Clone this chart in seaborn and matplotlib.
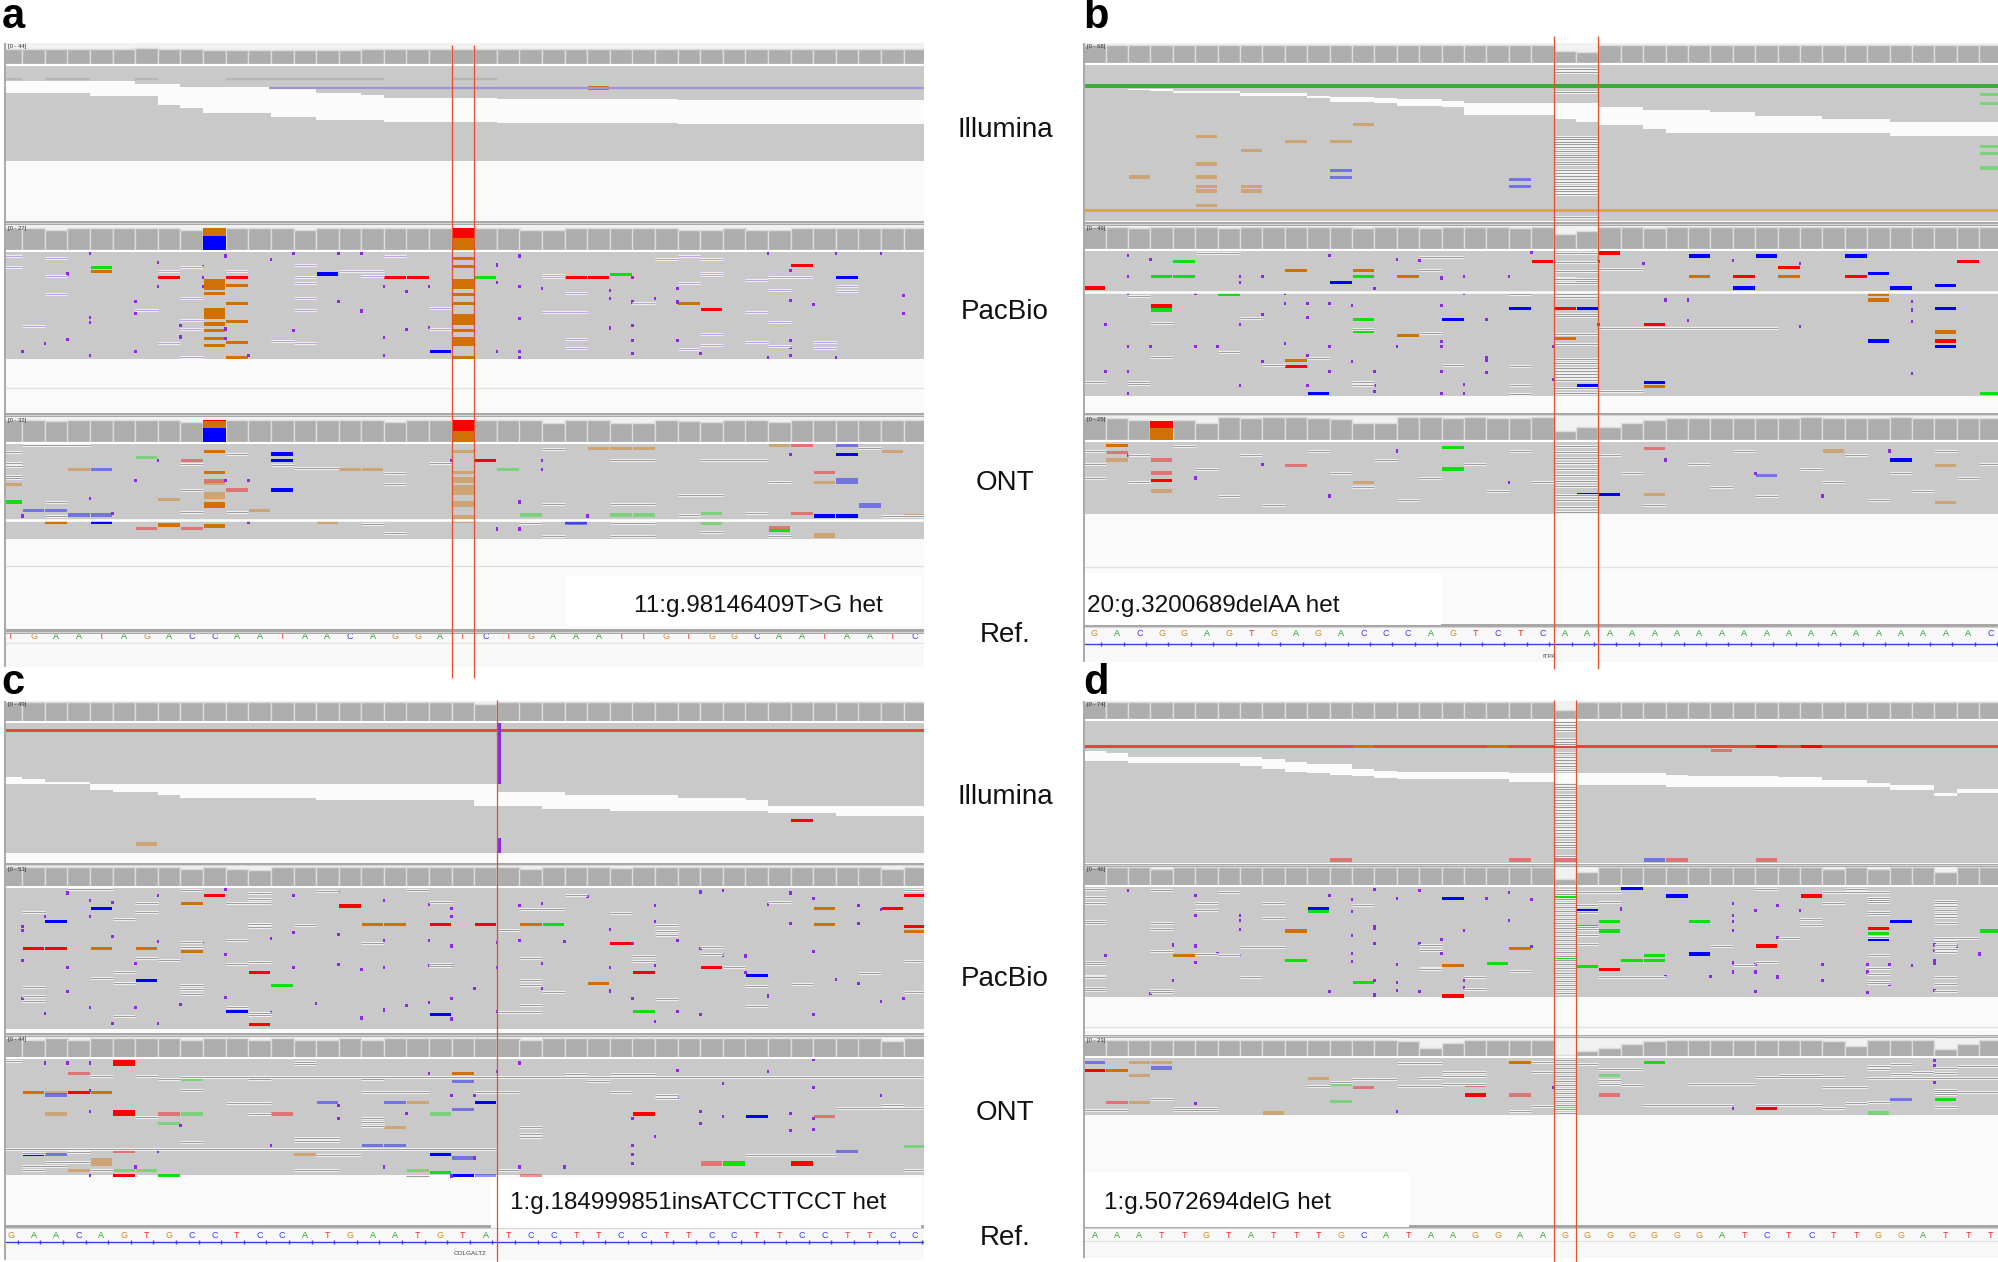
import matplotlib
matplotlib.use("Agg")
import matplotlib.pyplot as plt
import seaborn as sns
import numpy as np
import pandas as pd

sns.set_theme(style="white")
plt.rcParams['font.family'] = ['Liberation Sans', 'DejaVu Sans']

# ====================== DATA ======================
track_names = ["Illumina", "PacBio", "ONT", "Ref."]
panel_letters = ["a", "b", "c", "d"]

# reference sequences (41 bases per window)
a_ref = "TGAATAGACCAATAACAGGAT" + "CTGAAATTGTGGCAATAATC"
b_ref = "GACGGAGTGAGACCCAGTCTC" + "AAAAAAAAAA" + "AAAAAAAAA" + "C"
c_ref = "GAACAGTGCCTCCATGAATGTA" + "TCCTTCCTTCCTTCCTTCC"
d_ref = "AAATTGTATTTGCATAAGGAA" + "GGGGGGGATCTCTTGGATTT"

# variant boundaries (base coordinates)
a_var = [19.5, 20.5]
b_var = [20.5, 22.5]
c_var = [21.5]
d_var = [20.5, 21.5]

a_label = "11:g.98146409T>G het"
b_label = "20:g.3200689delAA het"
c_label = "1:g.184999851insATCCTTCCT het"
d_label = "1:g.5072694delG het"
b_gene = "ITPA"
c_gene = "COLGALT2"

# coverage ranges [0 - N]
a_rng = [44, 27, 32]
b_rng = [68, 49, 25]
c_rng = [49, 53, 44]
d_rng = [74, 46, 23]

# coverage per base
a_ill_cov = [42,42,42,42,42,41,44,40,40,39, 39,39,39,39,39,39,40,40,40,40,
             40,40,40,40,41,41,41,41,41,41, 41,41,41,41,41,41,41,41,41,41, 41]
a_pac_cov = [26,26,24,26,26,26,26,26,24,26, 26,26,26,23,26,26,26,26,26,26,
             26,26,26,24,24,26,26,26,26,26, 24,24,26,24,23,26,26,26,26,26, 26]
a_ont_cov = [30,30,29,30,30,30,30,30,28,31, 30,30,30,30,30,30,30,28,30,30,
             31,30,30,30,26,30,30,26,26,30, 29,28,30,30,28,30,30,30,30,30, 30]
b_ill_cov = [66,66,66,66,66,66,66,66,66,66, 66,66,66,66,66,66,66,66,66,66,
             66,43,41,66,66,66,66,66,66,66, 66,66,66,66,66,66,66,66,66,66, 66]
b_pac_cov = [48,48,46,48,48,48,46,48,48,48, 48,48,46,48,48,46,48,48,48,46,
             48,34,41,48,48,46,48,48,48,48, 48,48,48,48,48,48,48,48,48,48, 48]
b_ont_cov = [25,24,22,21,22,19,25,24,25,25, 24,23,18,19,25,25,24,25,24,24,
             25,10,14,14,18,22,24,24,24,24, 24,24,25,24,24,24,25,24,24,24, 24]
c_ill_cov = [48,48,48,48,48,48,48,48,48,48, 48,48,48,48,48,48,48,48,48,48,
             48,44,48,48,48,48,48,48,48,48, 48,48,48,48,48,48,48,48,48,48, 48]
c_pac_cov = [52,52,52,52,52,52,52,52,47,52, 47,46,52,52,52,52,52,52,52,52,
             52,52,52,47,52,52,52,50,52,52, 52,52,52,52,52,52,52,52,52,49, 52]
c_ont_cov = [43,40,43,40,43,43,43,43,40,43, 43,40,43,39,39,43,40,43,43,43,
             43,43,43,40,43,43,43,43,43,43, 43,43,43,43,43,43,43,43,43,38, 43]
d_ill_cov = [72,72,72,72,72,72,72,72,72,72, 72,72,72,72,72,72,72,72,72,72,
             72,41,72,72,72,72,72,72,72,72, 72,72,72,72,72,72,72,72,72,72, 72]
d_pac_cov = [45,45,45,40,45,45,45,45,45,45, 45,45,45,45,45,45,45,45,45,45,
             45,18,35,45,45,45,45,45,45,45, 45,45,45,42,45,40,45,45,33,45, 45]
d_ont_cov = [22,22,22,22,22,22,22,22,22,22, 22,22,22,22,21,11,18,22,22,22,
             22,3,8,12,17,21,22,22,22,22, 22,22,22,21,14,22,22,22,10,17, 22]

# allele fractions drawn in coverage bars (base, allele, fraction), top-down
a_pac_stack = [(9, 'G', 0.38), (9, 'C', 0.62), (20, 'T', 0.45), (20, 'G', 0.55)]
a_ont_stack = [(9, 'T', 0.05), (9, 'G', 0.30), (9, 'C', 0.65), (20, 'T', 0.50), (20, 'G', 0.50)]
b_ont_stack = [(3, 'T', 0.40), (3, 'G', 0.60)]

# read depth (rows) per track
a_depth = [21.1, 23.8, 21.1]
b_depth = [34.7, 32.2, 16.0]
c_depth = [28.9, 31.3, 25.8]
d_depth = [31.6, 24.4, 12.7]

# Illumina staircase gaps (top row, bottom row) per base
a_ill_gap_top = [3.3,3.3,3.3,3.3,3.3,3.3,3.9,3.9,4.6,4.6, 4.6,4.6,5.2,5.2,5.9,5.9,6.4,7.2,7.2,7.2,
                 7.2,7.2,7.3,7.3,7.3,7.3,7.3,7.3,7.3,7.3, 7.6,7.6,7.6,7.6,7.6,7.6,7.6,7.6,7.6,7.6, 7.6]
a_ill_gap_bot = [6.0,6.0,6.0,6.0,6.7,6.7,6.7,8.7,9.3,10.5, 10.5,10.5,11.3,11.3,11.9,11.9,11.9,12.5,12.5,12.5,
                 12.5,12.5,12.6,12.6,12.6,12.6,12.6,12.6,12.6,12.6, 12.9,12.9,12.9,12.9,12.9,12.9,12.9,12.9,12.9,12.9, 12.9]
b_ill_gap_top = [5.2,5.2,5.3,5.3,5.7,5.7,5.8,6.2,6.2,6.2, 6.8,7.2,7.2,7.3,7.6,7.6,7.9,8.4,8.4,8.4,
                 8.4,8.4,8.4,9.4,9.4,9.9,9.9,9.9,10.4,10.4, 11.4,11.4,11.4,12.1,12.1,12.1,12.7,12.7,12.7,12.7, 12.7]
b_ill_gap_bot = [5.2,5.2,5.5,5.7,6.2,6.2,6.2,6.8,6.8,6.8, 7.3,8.3,8.3,8.4,9.2,9.2,9.4,11.1,11.1,11.1,
                 11.1,12.0,12.6,13.3,13.3,14.2,15.2,15.2,15.2,15.2, 15.2,15.2,15.2,15.2,15.2,15.2,15.7,15.7,15.7,15.7, 15.7]
c_ill_gap_top = [12.0,12.5,13.0,13.0,13.6,13.6,13.6,13.6,13.6,13.6, 13.6,13.6,13.6,13.6,13.6,13.6,13.6,13.6,13.6,13.6,
                 13.6,13.6,15.4,15.4,15.4,16.0,16.0,16.0,16.0,16.0, 16.6,16.6,16.6,17.1,18.4,18.4,18.4,18.4,18.4,18.4, 18.4]
c_ill_gap_bot = [13.6,13.6,13.6,13.6,14.9,15.4,15.4,16.0,16.6,16.6, 16.6,16.6,16.6,16.6,17.1,17.1,17.1,17.1,17.1,17.1,
                 17.1,18.4,18.4,18.4,19.0,19.0,19.0,19.6,19.6,19.6, 19.6,19.6,19.6,19.6,20.1,20.1,20.1,20.7,20.7,20.7, 20.7]
d_ill_gap_top = [6.7,7.2,8.1,8.1,8.1,8.1,8.1,8.1,8.5,9.0, 9.6,9.6,10.7,11.1,11.3,11.3,11.3,11.3,11.3,11.5,
                 11.5,11.6,11.6,11.6,11.6,11.6,12.0,12.2,12.2,12.2, 12.2,12.5,12.5,13.1,13.1,13.7,14.2,14.2,16.1,15.2, 15.2]
d_ill_gap_bot = [8.9,8.9,9.4,9.4,9.4,9.4,9.4,10.0,10.7,11.3, 11.5,12.0,12.2,12.7,13.0,13.0,13.0,13.0,13.0,13.5,
                 13.5,13.7,14.2,14.2,14.2,14.2,14.7,14.7,14.7,14.7, 14.7,14.6,14.6,14.6,14.6,14.7,15.3,15.3,16.6,16.1, 16.1]

# full-width coloured reads (top row, bottom row, colour)
b_ill_bands = [(4.2, 5.1, '#3aad3a'), (32.0, 32.7, '#d8aa3a')]
c_ill_bands = [(1.3, 1.9, '#dc4a40')]
d_ill_bands = [(5.3, 5.9, '#e0483e')]

# partial streaks (from base, to base, row, colour)
a_ill_streaks = [(11.4, 40.5, 4.9, '#9f92d8'), (-0.5, 0.5, 2.9, '#b6b6b6'), (1.5, 3.5, 2.9, '#b6b6b6'),
                 (5.5, 6.5, 2.9, '#b6b6b6'), (9.5, 16.5, 2.9, '#b6b6b6'), (19.5, 21.5, 2.9, '#b6b6b6')]

# mismatches (base, row, allele[, height]); lower case = low quality
a_ill_mis = [(26, 4.9, 'G')]
a_pac_mis = [(4,3.5,'A'),(4,4.3,'G'),(7,5.6,'T'),(10,5.6,'T'),(14,4.9,'C'),(17,5.6,'T'),(18,5.6,'T'),
             (21,5.6,'A'),(19,22.1,'C'),
             (9,5.9,'G',2.6),(9,9.2,'G'),(9,12.4,'G',2.4),(9,16,'G'),(9,17.5,'G'),(9,19.3,'G'),(9,20.7,'G'),
             (10,7.5,'G'),(10,11.5,'G'),(10,15.5,'G'),(10,20.1,'G'),(10,23.4,'G'),
             (20,1.5,'G'),(20,3.2,'G'),(20,5.9,'G',2.4),(20,9.5,'G'),(20,11.5,'G'),(20,13.8,'G',2.4),
             (20,17.5,'G'),(20,18.9,'G',1.9),(20,23.4,'G'),
             (25,5.6,'T'),(26,5.6,'T'),(27,5.0,'A'),(35,3.0,'T'),(37,5.6,'C'),(30,11.5,'G'),(31,12.8,'T')]
a_ont_mis = [(9,1.7,'G'),(12,2.2,'C'),(12,3.7,'C'),(6,3.0,'a'),(8,3.7,'t'),(3,5.7,'g'),(4,5.7,'c'),
             (9,6.3,'G'),(15,5.7,'g'),(16,5.7,'g'),(9,8.2,'t'),(9,8.8,'g'),(0,9.0,'g'),(10,10.2,'t'),
             (12,10.2,'C'),(9,10.6,'g',1.6),(9,12.9,'G',1.3),(7,12.3,'g'),(0,12.9,'A'),(1,14.8,'c'),
             (2,14.8,'c'),(11,14.8,'g'),(3,15.8,'c'),(4,15.8,'c'),(23,15.8,'a'),(27,15.8,'a'),(28,15.8,'a'),
             (2,17.5,'G'),(4,17.5,'C'),(6,18.7,'t'),(7,18.0,'G'),(8,18.7,'t'),(9,18.2,'G'),(14,17.5,'g'),
             (25,17.5,'c'),(21,3.6,'T'),(22,5.6,'a'),
             (26,1,'g'),(27,1,'g'),(28,1,'g'),(34,0.4,'g'),(35,0.4,'t'),(37,0.4,'c'),(37,2.4,'C'),
             (38,1,'g'),(39,1.6,'g'),(36,6.3,'t'),(36,8.6,'g'),(37,7.6,'c',1.2),(38,13.0,'c',1.2),
             (31,15.4,'a'),(35,15.4,'t'),(36,16,'C'),(37,16,'C'),(40,16,'g'),(25,17.6,'c'),
             (31,17.6,'a'),(34,18.6,'t'),(34,19.2,'A'),(36,19.7,'g',1.2),
             (20,1.7,'g'),(20,6.3,'g'),(20,7.4,'g',1.3),(20,9.0,'g',2.3),(20,12.6,'g',1.5),(20,15.7,'g',1.8)]
b_ill_mis = [(12,13.3,'g'),(5,15.9,'g'),(9,17,'g'),(11,17,'g'),(7,19,'g'),(5,22,'g'),(2,24.9,'g'),
             (5,24.9,'g'),(5,27,'g'),(7,27,'g'),(5,28,'g'),(7,28,'g'),(5,31.3,'g'),(11,23.4,'c'),
             (11,25,'c'),(19,25.5,'c'),(19,27,'c'),(40,6.5,'a'),(40,8.6,'a'),(40,18.1,'a'),
             (40,19.7,'a'),(40,22.9,'a')]
b_pac_mis = [(23,-0.2,'T',1.0),(27,1.1,'C'),(30,1.1,'C'),(34,1.1,'C'),(20,2.4,'T'),(39,2.4,'T'),
             (4,2.4,'A'),(31,3.7,'T'),(9,4.4,'G'),(12,4.4,'G'),(35,5.0,'C'),(3,5.7,'A'),(4,5.7,'A'),
             (12,5.7,'A'),(14,5.7,'G'),(27,5.7,'G'),(29,5.7,'T'),(31,5.7,'G'),(34,5.7,'T'),(11,7.0,'C'),
             (0,8.2,'T'),(29,8.2,'C'),(36,8.2,'C'),(38,7.6,'C'),(6,9.6,'A'),(35,9.6,'G'),(35,10.9,'G'),
             (3,12.2,'T'),(3,13.1,'A'),(19,12.7,'C'),(21,12.7,'T'),(22,12.7,'C'),(38,12.7,'C'),
             (16,15.2,'C'),(12,15.3,'A'),(12,17.9,'A'),(25,16.3,'T'),(14,18.7,'G'),(38,18.0,'G'),
             (21,19.4,'G'),(35,20.0,'C'),(38,20.0,'T'),(38,21.3,'C'),(9,24.3,'G'),(9,25.6,'T'),
             (22,29.9,'C'),(25,29.3,'C'),(25,30.1,'G'),(10,31.6,'C'),(40,31.6,'A')]
b_ont_mis = [(1,0.7,'G'),(1,2.4,'t'),(1,4.0,'g'),(3,4.0,'t'),(3,6.9,'t'),(3,8.6,'T'),(3,10.9,'g'),
             (16,1.2,'A'),(16,6.0,'A'),(9,5.2,'t'),(36,4.0,'C'),(38,5.2,'g'),(22,11.7,'C'),
             (23,11.7,'C'),(25,11.7,'g'),(25,1.5,'t'),(33,2.0,'g'),(38,13.5,'g'),(12,9.0,'g'),(30,7.5,'c')]
c_ill_mis = [(35,21.6,'T'),(6,26.9,'g')]
c_pac_mis = [(9,1.7,'T'),(8,3.4,'G'),(15,4.0,'T'),(4,4.6,'C'),(36,4.6,'G'),(39,4.6,'T'),(40,1.7,'T'),
             (2,7.5,'C'),(16,8.1,'G'),(17,8.1,'G'),(19,8.1,'T'),(21,8.1,'T'),(23,8.1,'G'),(24,8.1,'A'),
             (36,8.1,'G'),(40,8.5,'T'),(40,9.7,'G'),(1,13.5,'T'),(2,13.5,'T'),(4,13.5,'G'),(6,13.5,'G'),
             (8,14.1,'G'),(27,12.3,'T'),(11,18.8,'T'),(28,18.8,'T'),(31,17.6,'T'),(33,19.5,'C'),
             (6,20.6,'C'),(12,21.6,'A'),(26,21.2,'G'),(10,27.5,'C'),(19,28.1,'C'),(28,27.5,'A'),
             (11,30.3,'T')]
c_ont_mis = [(5,0.3,'T',1.2),(20,3.3,'G'),(1,7.4,'G'),(2,7.4,'g'),(3,7.4,'T'),(4,7.4,'G'),(2,8.0,'c'),
             (3,3.3,'t'),(8,4.5,'a'),(20,5.0,'c'),(14,9.7,'c'),(17,9.7,'c'),(18,9.7,'g'),(21,9.7,'C'),
             (20,11.2,'c'),(2,12.2,'g'),(5,11.4,'T',1.2),(7,12.2,'t'),(8,12.2,'a'),(12,12.2,'t'),
             (19,12.2,'a'),(28,12.2,'T'),(33,12.8,'C'),(36,12.8,'t'),(7,14.3,'a'),(17,15.3,'g'),
             (16,19.3,'c'),(17,19.3,'c'),(5,20.6,'t'),(1,21.3,'C'),(2,21.3,'c'),(13,21.3,'g'),
             (19,21.3,'C'),(20,22.0,'c'),(4,22.0,'g',1.8),(37,20.6,'c'),(40,19.4,'a'),(31,22.6,'t',1.1),
             (32,22.6,'A',1.1),(35,22.6,'T',1.1),(5,24.7,'a'),(6,24.7,'a'),(18,24.7,'a'),(19,25.2,'A'),
             (3,24.7,'g'),(5,25.9,'T'),(7,25.9,'A'),(20,25.9,'C'),(21,25.9,'c'),(23,25.9,'t')]
d_ill_mis = [(12,5.6,'G'),(18,5.6,'G'),(30,5.6,'T'),(32,5.6,'T'),(28,6.5,'t'),(11,30.9,'t'),
             (19,30.9,'t'),(21,30.9,'t'),(25,30.9,'c'),(26,30.9,'t'),(30,30.9,'t')]
d_pac_mis = [(24,0.4,'C'),(21,2.0,'A'),(26,2.0,'C'),(32,2.0,'T'),(16,2.6,'C'),(10,4.9,'C'),(10,5.5,'A'),
             (22,5.3,'C'),(23,7.6,'A'),(27,7.6,'A'),(36,7.6,'C'),(22,8.7,'A'),(23,9.8,'A'),(9,9.8,'G'),
             (40,9.8,'A'),(35,9.3,'T'),(35,10.4,'A'),(35,11.6,'C'),(30,13.1,'T'),(19,13.6,'G'),
             (4,15.3,'G'),(27,14.9,'C'),(25,15.3,'A'),(24,16.4,'A'),(25,16.4,'A'),(9,16.4,'A'),
             (21,15.8,'A'),(16,17.5,'G'),(18,17.0,'A'),(22,17.7,'A'),(23,18.3,'T'),(12,21.2,'A'),
             (16,24.2,'T')]
d_ont_mis = [(0,1.0,'c'),(2,1.0,'g'),(3,1.0,'g'),(3,2.2,'c'),(0,2.7,'T'),(1,2.7,'G'),(2,3.9,'g'),
             (10,4.5,'g'),(11,5.9,'a'),(12,6.5,'t'),(11,9.6,'a'),(1,9.9,'t'),(2,9.9,'g'),(8,12.2,'g'),
             (17,6.1,'t'),(17,7.7,'T',1.0),(19,7.7,'t',1.0),(19,1.0,'G'),(21,11.1,'a'),(25,1.0,'A'),
             (23,3.9,'a'),(23,7.7,'t',1.0),(36,9.2,'c'),(38,9.2,'A'),(30,11.1,'T'),(35,12.2,'a')]

# insertion markers (base, row)
a_pac_ins = [(4,0.3),(10,0.9),(12,1.6),(13,0.3),(15,0.3),(7,2.4),(9,3.3),(0,2.3),(3,4.9),(9,5.6),(16,0.3),
             (9,7.6),(7,7.6),(17,7.6),(19,7.6),(18,8.8),(0,8.8),(6,11),(15,11),(16,13.1),(6,13.6),(4,14.5),
             (4,15.6),(8,16.3),(13,17.5),(18,17.2),(19,16.8),(0,18.4),(8,18.9),(3,19.5),(2,20.3),(17,19),
             (1,22.2),(6,22.2),(4,23),(11,23),(17,23),(10,17.1),(10,19.2),(23,0.9),(22,2.9),(23,7.6),
             (22,6.8),(24,8.1),(23,14.8),(22,22.2),(23,22.2),(23,23.5),(27,8.5),(27,10.3),(27,16.9),
             (28,5.6),(28,11.1),(28,16.4),(28,19.6),(28,22.5),(29,10.3),(30,8.1),(30,11.1),(30,19.6),
             (31,22.5),(34,0.4),(35,4.2),(35,10.8),(35,19.6),(35,21.2),(35,23),(34,23.5),(36,11.6),
             (37,0.4),(37,23.5),(39,0.4),(40,9.6),(40,13.6)]
a_ont_ins = [(6,8.2),(7,3.7),(11,8.2),(10,8.2),(4,12.2),(5,15.5),(1,16),(23,12.8),(24,5.7),(26,16),
             (35,2.3),(22,18.7),(23,18.7),(11,17.5),(20,3.7),(24,3.6),(23,13),(23,19),(22,19)]
b_pac_ins = [(2,1),(3,1.9),(11,1),(14,1.9),(15,2.2),(20,0.3),(23,2.4),(25,2.7),(29,2.2),(32,2.7),(2,5.7),
             (7,5.7),(8,5.7),(16,6),(17,5.7),(19,5.7),(7,7),(13,8.4),(2,9.4),(5,9.4),(9,9.4),(17,9.4),
             (9,11.6),(10,11.6),(11,11.6),(12,12.2),(16,12.2),(8,14.2),(0,14.8),(10,14.8),(18,15.3),
             (1,16.3),(7,16.3),(23,16.3),(27,15.4),(21,21.3),(16,20.1),(9,20.6),(5,21.3),(6,21.3),(2,21.3),
             (3,21.3),(11,21.3),(14,21.3),(16,21.3),(10,23.2),(12,24.6),(18,24.3),(18,23.7),(8,24.6),
             (1,26.7),(2,26.7),(11,26.7),(13,26.7),(16,26.7),(18,27),(21,28.6),(7,29.9),(10,29.9),
             (13,29.9),(17,29.6),(2,31.6),(13,31.3),(16,31.6),(17,31.6),(26,10.9),(27,10.9),(37,11.2),
             (37,13.1),(37,15.6),(32,16.8),(37,27.2)]
b_ont_ins = [(2,3),(5,8),(8,5),(11,12),(14,2),(19,9),(26,4),(30,7),(33,12),(36,2)]
c_ill_ins = [(21.6, 0.0, 13.6), (21.6, 25.5, 28.9)]
c_pac_ins = [(1,8.5),(3,1.1),(4,2.8),(5,3.3),(7,1.6),(10,0.4),(13,1.6),(15,0.7),(17,2.8),(19,3.7),(20,4.6),
             (20,6.3),(2,6.3),(4,6.3),(1,9.5),(5,10.7),(7,11.8),(9,12.1),(12,11.2),(13,9.8),(15,10.4),
             (17,11.6),(19,11.6),(20,12.9),(22,12.1),(23,11.6),(25,11.8),(27,9.2),(29,7.5),(31,0.9),
             (32,0.5),(34,3.6),(35,1.1),(36,2.4),(38,3.8),(39,4.7),(38,7.8),(35,7.8),(29,3.8),(24,3.4),
             (23,3.8),(26,1.9),(28,12.3),(30,11.6),(31,13.4),(32,14.9),(33,15.1),(36,14.2),(1,16.1),
             (3,17.7),(6,16.8),(10,14.8),(13,17.7),(15,17),(16,18.1),(17,17.7),(19,17.3),(20,17.3),
             (22,17.7),(24,16.8),(27,17.7),(29,17.3),(33,18.8),(37,20.4),(38,21.3),(34,24),(39,25.3),
             (40,24.6),(1,24.6),(3,23),(4,26.5),(6,26.5),(8,25.9),(10,24.4),(14,25.7),(16,28.9),
             (19,25.5),(20,24.6),(21,22.4),(24,22.4),(27,22.9),(28,24.6),(31,28.1),(29,29.6),(36,28.1),
             (2,27.9),(5,30.1),(7,30.1),(30,27.5),(12,27.7),(17,27.1),(18,26.1),(20,29.1),(22,27.5)]
c_ont_ins = [(2,0.9),(3,0.9),(4,0.9),(23,0.9),(36,0.1),(30,2.5),(34,2.8),(22,2.8),(19,3.3),(32,5.5),
             (36,6.3),(20,8.1),(21,8.1),(30,8.6),(39,8.1),(4,7),(4,11.7),(15,10.3),(18,12.2),(31,11.7),
             (35,12.2),(32,12.8),(15,13.3),(28,13.3),(36,13.3),(31,14.3),(8,14.8),(36,15.6),(35,15.8),
             (29,17.3),(12,19.3),(7,20.6),(28,19.3),(28,21.2),(21,22),(28,23.2),(6,24),(17,24),(23,24),
             (25,24),(4,25.9),(20,26)]
d_pac_ins = [(2,0.7),(13,0.5),(15,0.8),(19,1.2),(5,1.9),(11,1.9),(18,2.6),(20,2.7),(12,2.8),(14,2.6),
             (0,4.9),(12,5.4),(29,3.7),(31,4.2),(30,5.2),(32,5.2),(24,4.9),(5,6.3),(7,6.3),(7,7.5),
             (19,7.5),(13,8.7),(29,6.3),(29,7.6),(29,9.6),(31,11.2),(12,10.7),(13,9.3),(17,9.6),(7,9.4),
             (13,12.6),(15,12.6),(16,11.6),(20,13.3),(22,3.7),(4,12.9),(5,13.1),(6,14.8),(1,15.3),
             (12,14.8),(16,14.8),(7,15.3),(5,16.7),(12,16.6),(14,17.3),(29,16.9),(30,17.3),(33,17.2),
             (36,17.3),(37,17.5),(38,16.9),(39,13.1),(38,12.9),(38,14.1),(40,14.9),(26,19.8),(28,19.8),
             (29,18.9),(30,18.9),(31,20),(35,18.9),(35,17.3),(38,16.4),(4,20.8),(13,20.8),(14,21.3),
             (17,20.8),(17,22.4),(14,23),(15,23.2),(11,23.2),(13,24),(3,23.6),(30,23.2),(38,23),
             (35,23.5),(33,20.8),(36,21.6),(22,14.5)]
d_ont_ins = [(38,0.6),(38,1.7),(38,5.5),(5,10.1),(14,11.8),(0,6.5),(21,6.5),(29,11.1)]

# small deletions (base, row) or (from base, to base, row)
a_pac_del = [(0,0.8),(2,1.4),(0,3.3),(2,5.3),(7,4.3),(8,3.3),(10,4.3),(13,2.8),(13,5.5),(13,6.8),(15,4.3),
             (16,4.3),(17,0.8),(16,5.3),(2,9.4),(8,10.2),(13,10.2),(6,12.8),(13,12.8),(19,12.4),(1,16.5),
             (8,15.1),(8,17.0),(19,17.0),(7,20.3),(12,19.8),(13,20.3),(8,23.3),(29,1.6),(30,0.8),(31,1.6),
             (24,5),(24,5.6),(31,4.6),(31,5.1),(33,6.3),(34,5.6),(35,5.6),(30,6.8),(34,8.4),(37,7.5),
             (37,8.6),(25,9.1),(28,11.3),(24,13.4),(25,13.4),(33,13.4),(34,15.5),(25,19.3),(31,18.3),
             (25,21.3),(30,21.5),(31,20.7),(33,20),(34,20.8),(36,20),(36,21.3)]
a_ont_del = [(0,1.7),(0,4.2),(0,4.8),(0,7),(0,7.6),(1,3,0.2),(10,2.2),(8,4.5),(12,4.7),(13,14,5.3),
             (17,6.4),(17,8.8),(19,4.2),(8,10.2),(10,15),(2,12.8),(2,16),(8,15),(16,17.7),(17,19.7),
             (24,1),(27,28,3.6),(31,33,3.6),(30,31,11.3),(24,13.3),(27,28,13.3),(34,8.4),(33,15.3),
             (30,15.8),(39,40,16),(23,17.5),(27,28,17.5),(31,19.6),(24,20.5),(27,28,20.5),(34,20.5),(38,0.9)]
b_pac_del = [(5,6,0.4),(15,16,1.4),(15,4.2),(23,24,3.9),(21,5.9),(22,6.6),(19,9.6),(2,10),(7,14.8),
             (3,16.1),(12,17.4),(15,18.2),(23,30,17.2),(6,22.4),(3,23.6),(10,23.7),(8,25.4),(16,25.4),
             (19,25.5),(0,29.1),(2,29.1),(2,29.6),(12,29),(12,29.8),(19,29.8),(23,24,31),(19,31.7)]
b_ont_del = [(0,2),(0,5),(0,8),(2,3),(2,9),(4,1),(5,6),(6,12),(7,3),(8,14),(10,2),(11,7),(12,10),(13,4),
             (14,13),(15,8),(17,5),(18,11),(19,2),(20,9),(23,3),(24,7),(25,14),(27,5),(28,10),(29,2),
             (30,12),(32,6),(33,9),(34,3),(35,13),(36,7),(37,11),(38,2),(39,8),(40,5)]
c_pac_del = [(3,4,0.3),(8,0.4),(11,1.0),(11,2.4),(10,11,3.4),(14,0.6),(18,0.4),(19,3.2),(1,5.3),(6,3.3),
             (6,5.3),(5,6.8),(11,8),(11,8.7),(13,8.3),(16,12.2),(10,11.6),(8,12.1),(8,13),(6,15.5),(7,16),
             (11,16.4),(10,16.9),(5,18.6),(4,20),(5,21),(1,22),(1,24),(1,25),(8,21.6),(8,22.5),(8,23.5),
             (10,26.5),(11,27.7),(11,28.2),(5,28.5),(19,16.8),(19,17.3),(22,9.3),(23,24,4.6),(25,1.6),
             (27,5.6),(29,8.2),(29,9.5),(29,10.5),(31,14.6),(31,13.1),(32,17.5),(33,21.7),(35,21.4),
             (28,15),(28,16.3),(29,24.6),(33,26.3),(38,18.8),(40,0.4),(40,16.3),(40,23.2),(34,3),
             (23,15.6),(23,20.4),(23,21.6),(23,25.9),(22,23,27.5),(24,23.2)]
c_ont_del = [(0,0.4),(13,0.7),(13,1.2),(4,3.7),(6,3.7),(7,4.5),(11,4.5),(16,4.5),(8,6.9),(16,18,7.4),
             (21,22,7.4),(27,7.4),(29,8.1),(29,8.6),(10,11,9.7),(6,12.8),(11,12.2),(16,13.2),(16,14),
             (16,14.8),(23,15),(23,16.6),(23,17.4),(8,18.4),(13,14,17.6),(13,14,18.2),(25,3.3),(26,4.9),
             (27,28,3.3),(1,20.9),(3,20.6),(14,15,21.3),(2,3,22.8),(1,2,23.7),(1,24.7),(4,24.7),
             (13,14,24.7),(18,26),(22,24.7),(40,24.7),(33,36,21.4),(39,10.3),
             (8,40,3.9),(0,21,20.0),(37,40,10.8)]
d_pac_del = [(0,0.5),(3,0.7),(6,1.2),(30,0.5),(33,35,1.2),(34,0.5),(0,2.3),(0,3.5),(5,3.5),(5,5.1),
             (8,3.5),(12,3.9),(3,8),(3,9.4),(0,7.6),(0,8.1),(8,6.9),(15,12.9),(7,8,13.3),(3,14.3),(5,14.8),
             (6,15),(15,14),(0,16.6),(0,17),(15,17.9),(15,18.2),(17,19.9),(19,18.6),(0,19.8),(0,20.1),
             (7,20.1),(0,22.4),(0,22.8),(3,22.8),(3,23.4),(17,22.6),(35,2.4),(35,2.8),(35,3.3),(35,5.5),
             (35,6),(32,8.4),(35,11),(35,15.1),(35,18),(35,19.4),(35,20.8),(35,21.3),(28,13.1),(31,11.3),
             (29,17.3),(30,16.6),(38,3),(38,3.6),(38,4.2),(38,5),(38,5.9),(38,6.6),(38,8.1),(38,11.3),
             (38,12),(38,12.8),(38,13.8),(38,14.5),(38,20.1),(38,21.5),(38,23.2),(39,11.3),(33,3.6),
             (32,7.1),(23,25,20),(22,23,1.2),(22,3.9),(23,3.3),(22,5.6),(22,8.9),(22,9.4),(22,10.6),(22,12.6)]
d_ont_del = [(14,15,1),(16,17,3),(16,17,4),(15,4.5),(16,17,5.7),(14,15,6.3),(13,4.7),(12,4.6),(11,5.4),
             (10,6.3),(3,9.1),(4,5,11.6),(0,1,11.6),(4,5,11.1),(20,0.9),(20,3),(22,1.3),(23,24,2.5),
             (23,4.8),(23,5.7),(24,6.1),(27,29,5.7),(30,33,4.2),(35,40,4.5),(35,1.8),(35,2.4),(31,32,3.7),
             (33,34,6.5),(36,1.4),(36,3.6),(37,3.2),(38,2.3),(38,3.3),(38,7.1),(38,7.6),(38,8),(38,10.9),
             (39,40,1.8),(39,40,7.6),(25,28,10.4),(30,32,10.4),(33,11.1),(34,10),(35,9.7),(19,11.7),(20,10.7)]

# rows of reads spanning the deleted bases
b_ill_delcol = [0.9,1.6,5.9,15.9,16.4,17,17.6,18.3,19,20,20.5,21.5,22,23.3,24,24.6,25.3,26,26.8,
                27.6,28.1,28.7,33.7]
b_pac_delcol = [0.4,2.4,4.4,6.3,7,9.6,10.2,14.1,14.4,18.5,20.7,24,24.8,25.9,26.7,27.4,28.1,28.7,30.4,31.5]
b_ont_delcol = [1,2.2,3.5,4.7,6,7.4,8.6,9.8,11.7,13,14.5,15.5]
d_ill_delcol = [0.3,0.9,1.4,2,4.1,4.6,5,7.2,7.9,8.7,9.3,10,10.9,14,14.6,15.2,16.4,16.9,17.6,18.3,19,19.8,
                20.5,21.3,22,22.6,23.5,24.2,25,25.7,26.8,27.5,27.9,30.1]
d_pac_delcol = [0.7,1.6,2.6,3.5,4.4,5.3,6.2,7.2,8.1,9,9.9,10.8,11.7,12.7,13.6,14.5,15.4,16.3,17.2,18.1,
                19,20,20.9,21.8,22.7,23.6]
d_ont_delcol = [0.5,1.4,2.3,3.2,4.1,5,5.9,6.8,7.7,8.6,9.5,10.4,11.3,12.2]

# white gap lines across the whole window (row)
a_ont_gap = [16.9]
b_pac_gap = [9.0]

# ====================== STYLE / LAYOUT ======================
W, H = 1999, 1262
ROW_PX = 4.5
BASE_COL = {'A': '#12dd12', 'C': '#0000ff', 'G': '#d17105', 'T': '#ff0000'}
REF_COL = {'A': '#1f9f1f', 'C': '#3a3aff', 'G': '#d8892a', 'T': '#f02a2a'}
INS_COL = '#8a2be2'
READ_GREY = '#c9c9c9'
EMPTY = '#fafafa'
SEP = '#a7a7a7'
VAR_RED = '#e2502e'

LEFT = (4, 924, 11.0, 22.6)      # x0, x1, centre of base 0, base width (px)
RIGHT = (1083, 1999, 1094.5, 22.4)

fig = plt.figure(figsize=(W / 100, H / 100), dpi=100)
fig.patch.set_facecolor('white')


def px_axes(x0, x1, y0, y1):
    ax = fig.add_axes([x0 / W, 1 - y1 / H, (x1 - x0) / W, (y1 - y0) / H])
    ax.set_xticks([]); ax.set_yticks([])
    for s in ax.spines.values():
        s.set_visible(False)
    return ax


def xlim_of(col):
    x0, x1, c0, w = col
    return ((x0 - c0) / w, (x1 - c0) / w)


def draw_cov(col, rect, vals, rng, stack):
    y0, ybar, y1 = rect
    ax = px_axes(col[0], col[1], y0, y1)
    ax.set_facecolor('#f1f1f1')
    df = pd.DataFrame({'pos': np.arange(len(vals)), 'cov': vals})
    sns.barplot(data=df, x='pos', y='cov', native_scale=True, color='#adadad', saturation=1,
                width=1.0, edgecolor='#dcdcdc', linewidth=1.0, ax=ax, errorbar=None)
    tops = {}
    for base, code, frac in stack:
        top = tops.get(base, vals[base])
        h = frac * vals[base]
        ax.bar(base, h, bottom=top - h, width=1.0, color=BASE_COL[code], edgecolor='none')
        tops[base] = top - h
    ax.set_xlim(xlim_of(col))
    ax.set_ylim(0, rng * (y1 - y0) / (y1 - ybar))
    ax.set_xlabel(''); ax.set_ylabel('')
    ax.set_xticks([]); ax.set_yticks([])
    ax.text(0.004, 0.97, f"[0 - {rng}]", transform=ax.transAxes, fontsize=4.2,
            va='top', ha='left', color='#333333')
    return ax


def draw_reads(col, rect, depth, gap_top=None, gap_bot=None, bands=(), streaks=(), mis=(),
               ins=(), ins_bars=(), dels=(), del_centre='#8e8e8e', delcol=(), var=None, gaps=()):
    y0, y1 = rect
    ax = px_axes(col[0], col[1], y0, y1)
    ax.set_facecolor(EMPTY)
    xl = xlim_of(col)
    ax.set_xlim(xl)
    ax.set_ylim((y1 - y0) / ROW_PX, 0)
    ax.fill_between(list(xl), 0, depth, color=READ_GREY, lw=0)
    if gap_top is not None:
        pos = np.arange(len(gap_top))
        ax.bar(pos, np.array(gap_bot) - np.array(gap_top), bottom=gap_top, width=1.0,
               color='#fbfbfb', edgecolor='none')
    for r0, r1, c in bands:
        ax.fill_between(list(xl), r0, r1, color=c, lw=0)
    for xa, xb, r, c in streaks:
        ax.hlines(r, xa, xb, color=c, lw=1.6)
    for r in gaps:
        ax.hlines(r, xl[0], xl[1], color='white', lw=1.8)
    for d in dels:
        if len(d) == 2:
            xa, xb, r = d[0] - 0.5, d[0] + 0.5, d[1]
        else:
            xa, xb, r = d[0] - 0.5, d[1] + 0.5, d[2]
        ax.hlines(r, xa, xb, color='#f4f4f4', lw=2.0)
        ax.hlines(r, xa, xb, color=del_centre, lw=0.6)
    if var is not None:
        for r in delcol:
            ax.hlines(r, var[0], var[-1], color='#f4f4f4', lw=2.0)
            ax.hlines(r, var[0], var[-1], color='#8a8a8a', lw=0.6)
    for m in mis:
        b, r, code = m[0], m[1], m[2]
        colr = BASE_COL[code.upper()]
        alpha = 1.0 if code.isupper() else 0.42
        if len(m) > 3:
            bottom, height = r, m[3]
        else:
            bottom, height = r - 0.36, 0.72
        ax.bar(b, height, bottom=bottom, width=0.96, color=colr, alpha=alpha, edgecolor='none')
    for b, r in ins:
        ax.bar(b - 0.5, 0.7, bottom=r - 0.35, width=0.12, color=INS_COL, edgecolor='none')
    for x, r0, r1 in ins_bars:
        ax.bar(x, r1 - r0, bottom=r0, width=0.16, color=INS_COL, edgecolor='none')
    return ax


def draw_ref(col, y0, y1, letter_y, seq, gene=None, gene_y=None, name_y=None):
    ax = px_axes(col[0], col[1], y0, y1)
    ax.set_facecolor('#f8f8f8')
    xl = xlim_of(col)
    ax.set_xlim(xl)
    ax.set_ylim(y1, y0)
    for i, ch in enumerate(seq):
        ax.text(i, letter_y, ch, color=REF_COL[ch], fontsize=6.5, ha='center', va='center')
    if gene is not None:
        ax.hlines(gene_y, xl[0], xl[1], color='#3b44d8', lw=1.0)
        ax.plot(np.arange(len(seq)) + 0.3, [gene_y] * len(seq), ls='none', marker='|', ms=3.5,
                mew=1.0, color='#3b44d8')
        ax.text(20.3, name_y, gene, fontsize=4.6, ha='center', va='center', color='#444444')
    else:
        ax.hlines(letter_y + 6, xl[0], xl[1], color='#e2e2e2', lw=0.8)
    return ax


# ---------------- panel specifications ----------------
panels = [
    dict(col=LEFT, top=43, bottom=678,
         cov=[(43, 48, 64), (225, 227, 250), (417, 419, 442)],
         reads=[(66, 221), (252, 413), (444, 629)],
         seps=[(221, 224.5), (413, 416.5), (629, 633.5)],
         ref=(633.5, 667, 637), seq=a_ref, var=a_var, rng=a_rng,
         covs=[a_ill_cov, a_pac_cov, a_ont_cov], stacks=[[], a_pac_stack, a_ont_stack],
         depth=a_depth,
         tracks=[dict(gap_top=a_ill_gap_top, gap_bot=a_ill_gap_bot, streaks=a_ill_streaks, mis=a_ill_mis),
                 dict(mis=a_pac_mis, ins=a_pac_ins, dels=a_pac_del, del_centre='#b48cf2'),
                 dict(mis=a_ont_mis, ins=a_ont_ins, dels=a_ont_del, gaps=a_ont_gap)],
         faint=[388, 566], box=(567, 921, 576, 626), text=a_label, text_xy=(758, 606),
         gene=None, red=(45, 678)),
    dict(col=RIGHT, top=43, bottom=669,
         cov=[(43, 44, 63), (225.5, 227, 249), (416, 417, 440)],
         reads=[(65, 222), (251, 413), (442, 624)],
         seps=[(222, 225.5), (413, 416), (624, 628)],
         ref=(628, 662, 634), seq=b_ref, var=b_var, rng=b_rng,
         covs=[b_ill_cov, b_pac_cov, b_ont_cov], stacks=[[], [], b_ont_stack],
         depth=b_depth,
         tracks=[dict(gap_top=b_ill_gap_top, gap_bot=b_ill_gap_bot, bands=b_ill_bands, mis=b_ill_mis,
                      delcol=b_ill_delcol),
                 dict(mis=b_pac_mis, ins=b_pac_ins, dels=b_pac_del, delcol=b_pac_delcol, gaps=b_pac_gap),
                 dict(mis=b_ont_mis, ins=b_ont_ins, dels=b_ont_del, delcol=b_ont_delcol)],
         faint=[567], box=(1084, 1441, 573, 625), text=b_label, text_xy=(1213, 606),
         gene=(b_gene, 644, 656), red=(36, 669)),
    dict(col=LEFT, top=701, bottom=1262,
         cov=[(701, 702, 722), (866, 867, 887), (1036.5, 1038, 1058)],
         reads=[(723, 863), (888, 1033), (1059, 1225)],
         seps=[(863, 866), (1033, 1036.5), (1225, 1229)],
         ref=(1229, 1260, 1235), seq=c_ref, var=c_var, rng=c_rng,
         covs=[c_ill_cov, c_pac_cov, c_ont_cov], stacks=[[], [], []],
         depth=c_depth,
         tracks=[dict(gap_top=c_ill_gap_top, gap_bot=c_ill_gap_bot, bands=c_ill_bands, mis=c_ill_mis,
                      ins_bars=c_ill_ins),
                 dict(mis=c_pac_mis, ins=c_pac_ins, dels=c_pac_del),
                 dict(mis=c_ont_mis, ins=c_ont_ins, dels=c_ont_del)],
         faint=[], box=(491, 921, 1177, 1229), text=c_label, text_xy=(698, 1203),
         gene=(c_gene, 1242, 1253), red=(700, 1262)),
    dict(col=RIGHT, top=701, bottom=1262,
         cov=[(701, 702, 719), (866, 867, 886), (1037.5, 1039, 1057)],
         reads=[(721, 864), (887, 1035), (1058, 1225)],
         seps=[(864, 866.5), (1035, 1037.5), (1225, 1229)],
         ref=(1229, 1258, 1235), seq=d_ref, var=d_var, rng=d_rng,
         covs=[d_ill_cov, d_pac_cov, d_ont_cov], stacks=[[], [], []],
         depth=d_depth,
         tracks=[dict(gap_top=d_ill_gap_top, gap_bot=d_ill_gap_bot, bands=d_ill_bands, mis=d_ill_mis,
                      delcol=d_ill_delcol),
                 dict(mis=d_pac_mis, ins=d_pac_ins, dels=d_pac_del, delcol=d_pac_delcol),
                 dict(mis=d_ont_mis, ins=d_ont_ins, dels=d_ont_del, delcol=d_ont_delcol)],
         faint=[1027], box=(1084, 1409, 1172, 1227), text=d_label, text_xy=(1218, 1203),
         gene=None, red=(700, 1262)),
]

# ---------------- draw tracks ----------------
for p in panels:
    col = p['col']
    for k in range(3):
        draw_cov(col, p['cov'][k], p['covs'][k], p['rng'][k], p['stacks'][k])
        draw_reads(col, p['reads'][k], p['depth'][k], var=p['var'], **p['tracks'][k])
    if p['gene'] is not None:
        g, gy, ny = p['gene']
        draw_ref(col, p['ref'][0], p['ref'][1], p['ref'][2], p['seq'], gene=g, gene_y=gy, name_y=ny)
    else:
        draw_ref(col, p['ref'][0], p['ref'][1], p['ref'][2], p['seq'])

# ---------------- figure overlay: separators, boxes, labels ----------------
ov = fig.add_axes([0, 0, 1, 1])
ov.set_xlim(0, W); ov.set_ylim(H, 0)
ov.axis('off')
ov.patch.set_alpha(0)
for p in panels:
    x0, x1 = p['col'][0], p['col'][1]
    for s0, s1 in p['seps']:
        ov.fill_between([x0, x1], s0, s1, color=SEP, lw=0)
        ov.hlines(s1 - 1.2, x0, x1, color='#d4d4d4', lw=0.8)
    for k in range(3):
        ov.hlines(p['reads'][k][0] - 1, x0, x1, color='white', lw=1.4)
    for fy in p['faint']:
        ov.hlines(fy, x0, x1, color='#e0e0e0', lw=0.9)
    ov.vlines(x0 + 1, p['top'], p['ref'][1], color='#a9a9a9', lw=1.4)
    bx0, bx1, by0, by1 = p['box']
    ov.fill_between([bx0, bx1], by0, by1, color='white', lw=0)
    ov.text(p['text_xy'][0], p['text_xy'][1], p['text'], fontsize=17.5, ha='center', va='center',
            color='#111111')

mid_labels_y = [130, 312, 483, 635, 797, 979, 1113, 1238]
for i, yy in enumerate(mid_labels_y):
    ov.text(1005, yy, track_names[i % 4], fontsize=20, ha='center', va='center', color='#111111')

letter_xy = [(13, 17), (1096, 17), (13, 683), (1096, 683)]
for (lx, ly), lt in zip(letter_xy, panel_letters):
    ov.text(lx, ly, lt, fontsize=30, fontweight='bold', ha='center', va='center', color='black')

# ---------------- variant lines (per panel, base coordinates) ----------------
for p in panels:
    col = p['col']
    pax = fig.add_axes([col[0] / W, 0, (col[1] - col[0]) / W, 1])
    pax.axis('off')
    pax.patch.set_alpha(0)
    pax.set_xlim(xlim_of(col))
    pax.set_ylim(H, 0)
    pax.vlines(p['var'], p['red'][0], p['red'][1], color=VAR_RED, lw=0.9)

fig.savefig("out.png", dpi=100, facecolor='white')
